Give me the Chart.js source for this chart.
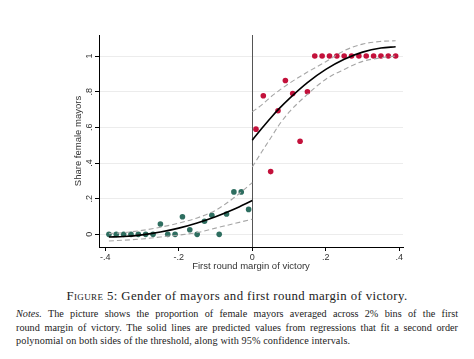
<!DOCTYPE html>
<html>
<head>
<meta charset="utf-8">
<script src="https://cdn.jsdelivr.net/npm/chart.js@4"></script>
<style>
  html, body { margin: 0; padding: 0; background: #fff; }
  #wrap { position: relative; width: 474px; height: 359px; overflow: hidden; }
  #c { position: absolute; left: 0; top: 0; }
  #cap { position: absolute; left: 0; top: 289px; width: 474px; text-align: center;
         font-family: "Liberation Serif", "DejaVu Serif", serif; font-size: 12.8px; letter-spacing: 0.4px; color: #222; }
  #cap .sc { font-variant: small-caps; }
  #notes { position: absolute; left: 16px; top: 307px; width: 442px;
           font-family: "Liberation Serif", "DejaVu Serif", serif; font-size: 10.2px; line-height: 13.5px; color: #222; }
  #notes .l { display: block; text-align: justify; text-align-last: justify; white-space: nowrap; }
  #notes .last { display: block; text-align: left; letter-spacing: 0.1px; }
</style>
</head>
<body>
<div id="wrap">
  <canvas id="c" width="474" height="280"></canvas>
  <div id="cap"><span class="sc">Figure</span> 5: Gender of mayors and first round margin of victory.</div>
  <div id="notes">
    <span class="l"><i>Notes.</i> The picture shows the proportion of female mayors averaged across 2% bins of the first</span>
    <span class="l">round margin of victory. The solid lines are predicted values from regressions that fit a second order</span>
    <span class="last">polynomial on both sides of the threshold, along with 95% confidence intervals.</span>
  </div>
</div>
<script>
// ---- data ----
const binsLeft  = [-0.39,-0.37,-0.35,-0.33,-0.31,-0.29,-0.27,-0.25,-0.23,-0.21,-0.19,-0.17,-0.15,-0.13,-0.11,-0.09,-0.07,-0.05,-0.03,-0.01];
const shareLeft = [0,0,0,0,0,0,0,0.058,0,0,0.099,0.026,0,0.073,0.107,0,0.114,0.238,0.238,0.140];
const binsRight  = [0.01,0.03,0.05,0.07,0.09,0.11,0.13,0.15,0.17,0.19,0.21,0.23,0.25,0.27,0.29,0.31,0.33,0.35,0.37,0.39];
const shareRight = [0.590,0.777,0.352,0.693,0.863,0.790,0.522,0.800,1,1,1,1,1,1,1,1,1,1,1,1];

const fitLeftX  = [-0.39,-0.35,-0.30,-0.25,-0.20,-0.15,-0.10,-0.05,0];
const fitLeft   = [-0.015,-0.012,-0.003,0.013,0.035,0.064,0.099,0.141,0.19];
const ciLeftUp  = [0.004,0.010,0.022,0.040,0.063,0.092,0.135,0.205,0.29];
const ciLeftLo  = [-0.037,-0.033,-0.026,-0.015,-0.004,0.010,0.035,0.060,0.085];

const fitRightX = [0,0.025,0.05,0.075,0.10,0.15,0.20,0.25,0.30,0.35,0.39];
const fitRight  = [0.528,0.592,0.653,0.709,0.760,0.851,0.925,0.982,1.022,1.045,1.052];
const ciRightUp = [0.687,0.725,0.770,0.810,0.846,0.910,0.968,1.030,1.067,1.082,1.086];
const ciRightLo = [0.378,0.460,0.540,0.620,0.685,0.785,0.870,0.925,0.970,0.990,1.000];

const xTicks = [-0.4,-0.2,0,0.2,0.4];
const xTickLabels = ['-.4','-.2','0','.2','.4'];
const yTicks = [0,0.2,0.4,0.6,0.8,1];
const yTickLabels = ['0','.2','.4','.6','.8','1'];
const xTitle = 'First round margin of victory';
const yTitle = 'Share female mayors';

const GREEN = '#2e6e60', RED = '#c3113b';
const pts = (xs, ys) => xs.map((x, i) => ({x, y: ys[i]}));

function lineDs(xs, ys, dashed) {
  return {
    type: 'line', data: pts(xs, ys), showLine: true, pointRadius: 0,
    borderColor: dashed ? '#a6a6a6' : '#000', borderWidth: dashed ? 1.1 : 1.6,
    borderDash: dashed ? [5, 3] : [], cubicInterpolationMode: 'monotone', fill: false, order: 0
  };
}

const font = { family: '"Liberation Sans", Arial, sans-serif', size: 9 };

const annot = {
  id: 'annot',
  beforeDatasetsDraw(chart) {
    const {ctx, chartArea: a, scales: {x}} = chart;
    const px = Math.round(x.getPixelForValue(0)) + 0.5;
    ctx.save();
    ctx.strokeStyle = '#555'; ctx.lineWidth = 1;
    ctx.beginPath(); ctx.moveTo(px, a.top); ctx.lineTo(px, a.bottom); ctx.stroke();
    ctx.restore();
  },
  afterDraw(chart) {
    const {ctx, chartArea: a, scales: {y}} = chart;
    ctx.save();
    ctx.fillStyle = '#333';
    ctx.font = '9px "Liberation Sans", Arial, sans-serif';
    ctx.textAlign = 'center'; ctx.textBaseline = 'middle';
    yTicks.forEach((v, i) => {
      const py = y.getPixelForValue(v);
      ctx.save(); ctx.translate(90, py); ctx.rotate(-Math.PI / 2);
      ctx.fillText(yTickLabels[i], 0, 0); ctx.restore();
    });
    ctx.font = '9.5px "Liberation Sans", Arial, sans-serif';
    ctx.save(); ctx.translate(78, (a.top + a.bottom) / 2); ctx.rotate(-Math.PI / 2);
    ctx.fillText(yTitle, 0, 0); ctx.restore();
    ctx.fillText(xTitle, (a.left + a.right) / 2, 266);
    ctx.restore();
  }
};

new Chart(document.getElementById('c'), {
  type: 'scatter',
  data: {
    datasets: [
      lineDs(fitLeftX, ciLeftUp, true),
      lineDs(fitLeftX, ciLeftLo, true),
      lineDs(fitRightX, ciRightUp, true),
      lineDs(fitRightX, ciRightLo, true),
      lineDs(fitLeftX, fitLeft, false),
      lineDs(fitRightX, fitRight, false),
      { data: pts(binsLeft, shareLeft), backgroundColor: GREEN, borderWidth: 0, pointRadius: 2.8, order: 1 },
      { data: pts(binsRight, shareRight), backgroundColor: RED, borderWidth: 0, pointRadius: 2.8, order: 1 }
    ]
  },
  options: {
    responsive: false, animation: false, devicePixelRatio: 1,
    layout: { padding: { left: 0, right: 71, top: 35, bottom: 0 } },
    plugins: { legend: { display: false }, tooltip: { enabled: false } },
    scales: {
      x: {
        type: 'linear', min: -0.417, max: 0.41,
        afterBuildTicks: s => { s.ticks = xTicks.map(v => ({value: v})); },
        afterFit: s => { s.height = 33; },
        grid: { drawOnChartArea: false, drawTicks: true, tickLength: 4, tickColor: '#000' },
        border: { display: true, color: '#000', width: 1 },
        ticks: { font, color: '#333', padding: 1, maxRotation: 0,
                 callback: (v) => xTickLabels[xTicks.findIndex(t => Math.abs(t - v) < 1e-9)] }
      },
      y: {
        type: 'linear', min: -0.071, max: 1.118,
        afterBuildTicks: s => { s.ticks = yTicks.map(v => ({value: v})); },
        afterFit: s => { s.width = 99; },
        grid: { drawOnChartArea: true, color: '#ececec', lineWidth: 1, drawTicks: true, tickLength: 4, tickColor: '#000' },
        border: { display: true, color: '#000', width: 1 },
        ticks: { display: false }
      }
    }
  },
  plugins: [annot]
});
</script>
</body>
</html>
